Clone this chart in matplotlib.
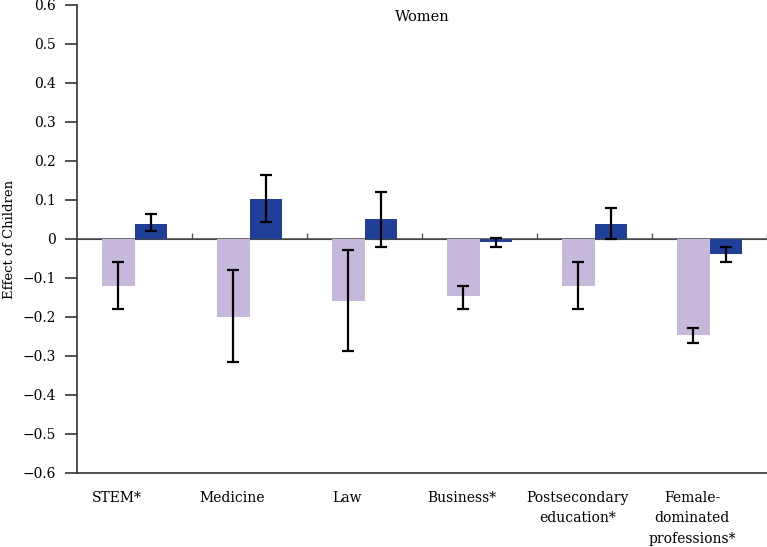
import matplotlib
matplotlib.use("Agg")
import matplotlib.pyplot as plt
import numpy as np
from matplotlib.ticker import FuncFormatter, MultipleLocator

categories = ["STEM*", "Medicine", "Law", "Business*", "Postsecondary\neducation*",
              "Female-\ndominated\nprofessions*"]
light_vals = [-0.12, -0.20, -0.16, -0.147, -0.12, -0.247]
light_lo = [-0.179, -0.316, -0.287, -0.18, -0.179, -0.267]
light_hi = [-0.058, -0.079, -0.028, -0.12, -0.058, -0.229]
dark_vals = [0.039, 0.102, 0.051, -0.009, 0.039, -0.038]
dark_lo = [0.021, 0.043, -0.020, -0.021, 0.0, -0.058]
dark_hi = [0.064, 0.163, 0.121, 0.003, 0.079, -0.021]

plt.rcParams['font.family'] = ['DejaVu Serif']
fig = plt.figure(figsize=(7.67, 5.47), dpi=100)
ax = fig.add_axes([0.1004, 0.1353, 0.8996, 0.8556])

x = np.arange(len(categories))
w = 0.28
lv = np.array(light_vals); dv = np.array(dark_vals)
lerr = [lv - np.array(light_lo), np.array(light_hi) - lv]
derr = [dv - np.array(dark_lo), np.array(dark_hi) - dv]
ax.bar(x - w/2, lv, w, color="#c5b8da", zorder=2)
ax.bar(x + w/2, dv, w, color="#1f3f99", zorder=2)
ax.errorbar(x - w/2, lv, yerr=lerr, fmt="none", ecolor="black", elinewidth=1.6,
            capsize=4.5, capthick=1.6, zorder=3)
ax.errorbar(x + w/2, dv, yerr=derr, fmt="none", ecolor="black", elinewidth=1.6,
            capsize=4.5, capthick=1.6, zorder=3)

ax.axhline(0, color="#555555", lw=1.2, zorder=1)
sec = ax.secondary_xaxis(0.5)
sec.set_xticks(np.arange(len(categories)) + 0.5)
sec.set_xticklabels([""] * len(categories))
sec.tick_params(direction="out", length=4, width=1, color="#555555")
sec.spines['bottom'].set_visible(False)

ax.set_xlim(-0.5, len(categories) - 0.5)
ax.set_ylim(-0.6, 0.6)
ax.yaxis.set_major_locator(MultipleLocator(0.1))
ax.yaxis.set_major_formatter(FuncFormatter(
    lambda v, p: "0" if abs(v) < 1e-9 else ("\u2212%.1f" % abs(v) if v < 0 else "%.1f" % v)))
ax.set_xticks(x - 0.15)
ax.set_xticklabels(categories, fontsize=10, linespacing=1.57, va="top")
ax.tick_params(axis="x", length=0, pad=13)
ax.tick_params(axis="y", direction="out", length=9, width=1.2, color="#333333",
               labelsize=10, pad=6)
for s in ["top", "right"]:
    ax.spines[s].set_visible(False)
for s in ["left", "bottom"]:
    ax.spines[s].set_color("#333333")
    ax.spines[s].set_linewidth(1.2)

ax.set_ylabel("Effect of Children", fontsize=9.5)
ax.yaxis.set_label_coords(-0.088, 0.5)
ax.text(0.5, 0.99, "Women", transform=ax.transAxes, ha="center", va="top", fontsize=10.5)

fig.savefig("out.png", dpi=100)
